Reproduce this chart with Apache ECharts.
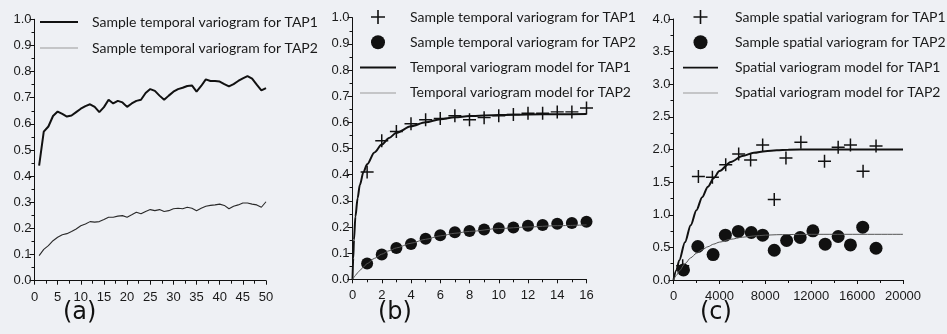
<!DOCTYPE html>
<html><head><meta charset="utf-8">
<script src="https://cdn.jsdelivr.net/npm/echarts@6/dist/echarts.min.js"></script>
<style>html,body{margin:0;padding:0;background:#eef0f4}#c{width:947px;height:334px}</style>
</head><body><div id="c"></div>
<script>
// ---- Panel (a): sample temporal variograms (lag in weeks) ----
const lagsA = [1,2,3,4,5,6,7,8,9,10,11,12,13,14,15,16,17,18,19,20,21,22,23,24,25,26,27,28,29,30,31,32,33,34,35,36,37,38,39,40,41,42,43,44,45,46,47,48,49,50];
const tap1A = [0.44,0.57,0.59,0.63,0.647,0.638,0.628,0.632,0.645,0.658,0.668,0.675,0.665,0.645,0.664,0.692,0.678,0.688,0.682,0.665,0.678,0.688,0.692,0.718,0.733,0.726,0.708,0.692,0.708,0.723,0.733,0.738,0.745,0.747,0.723,0.745,0.77,0.764,0.764,0.762,0.752,0.743,0.752,0.764,0.774,0.783,0.773,0.75,0.728,0.737];
const tap2A = [0.096,0.12,0.134,0.153,0.166,0.176,0.18,0.188,0.198,0.21,0.217,0.226,0.224,0.226,0.234,0.243,0.243,0.247,0.249,0.243,0.252,0.262,0.256,0.265,0.272,0.268,0.272,0.265,0.268,0.275,0.277,0.275,0.281,0.277,0.268,0.277,0.285,0.288,0.29,0.293,0.288,0.275,0.285,0.29,0.297,0.297,0.293,0.29,0.281,0.302];

// ---- Panel (b): temporal variograms and models ----
const lagsB = [1,2,3,4,5,6,7,8,9,10,11,12,13,14,15,16];
const tap1B = [0.41,0.53,0.565,0.595,0.61,0.615,0.625,0.61,0.618,0.625,0.63,0.635,0.635,0.64,0.64,0.655];
const tap2B = [0.06,0.095,0.12,0.135,0.155,0.168,0.18,0.185,0.19,0.195,0.198,0.205,0.208,0.212,0.215,0.22];
const modelLagsB = [0,0.05,0.1,0.2,0.35,0.5,0.75,1,1.5,2,2.5,3,4,5,6,7,8,10,12,14,16];
const model1B = [0,0.08,0.15,0.24,0.31,0.36,0.41,0.44,0.485,0.515,0.54,0.56,0.585,0.6,0.612,0.619,0.624,0.628,0.63,0.631,0.632];
const model2B = [0,0.004,0.008,0.015,0.025,0.034,0.047,0.06,0.08,0.096,0.109,0.12,0.138,0.153,0.166,0.176,0.183,0.194,0.2,0.205,0.208];

// ---- Panel (c): spatial variograms and models (distance) ----
const distC1 = [800,2170,3390,4550,5680,6720,7770,8780,9800,11100,13160,14350,15420,16520,17650];
const tap1C  = [0.22,1.585,1.575,1.765,1.93,1.84,2.07,1.235,1.87,2.11,1.82,2.035,2.07,1.665,2.055];
const distC2 = [870,2120,3450,4520,5650,6780,7770,8780,9860,11040,12150,13220,14350,15420,16490,17650];
const tap2C  = [0.155,0.513,0.39,0.687,0.744,0.728,0.687,0.456,0.605,0.651,0.754,0.549,0.667,0.538,0.81,0.487];
const modelDistC = [0,250,500,1000,1500,2000,2500,3000,3500,4000,5000,6000,7000,8000,9000,10000,12000,20000];
const model1C = [0,0.15,0.3,0.58,0.84,1.07,1.27,1.43,1.56,1.67,1.81,1.9,1.95,1.975,1.99,1.997,2.0,2.0];
const model2C = [0,0.07,0.14,0.25,0.34,0.41,0.465,0.51,0.55,0.58,0.625,0.655,0.675,0.687,0.694,0.697,0.7,0.7];

// ---- Text ----
const legendA = ['Sample temporal variogram for TAP1','Sample temporal variogram for TAP2'];
const legendB = ['Sample temporal variogram for TAP1','Sample temporal variogram for TAP2','Temporal variogram model for TAP1','Temporal variogram model for TAP2'];
const legendC = ['Sample spatial variogram for TAP1','Sample spatial variogram for TAP2','Spatial variogram model for TAP1','Spatial variogram model for TAP2'];
const panelLabels = ['(a)','(b)','(c)'];

const labelMap = {a1:legendA[0],a2:legendA[1],b1:legendB[0],b2:legendB[1],b3:legendB[2],b4:legendB[3],c1:legendC[0],c2:legendC[1],c3:legendC[2],c4:legendC[3]};
const zip = (xs, ys) => xs.map((x,i)=>[x, ys[i]]);

const INK = '#111';
const GREY = '#555';
const PLUS = 'path://M6.2,0H7.8V6.2H14V7.8H7.8V14H6.2V7.8H0V6.2H6.2Z';
const THICK = 'path://M0,0H36V2H0Z';
const THIN = 'path://M0,0H36V1H0Z';
const axisFont = {color:'#1a1a1a', fontSize:13, fontFamily:'Liberation Sans'};

function xAxis(idx, max, interval){
  return {type:'value', gridIndex:idx, min:0, max:max, interval:interval,
    axisLine:{show:true, onZero:false, lineStyle:{color:INK, width:1}},
    axisTick:{show:true, length:4, lineStyle:{color:INK}},
    minorTick:{show:true, splitNumber:2, length:3, lineStyle:{color:INK}},
    splitLine:{show:false},
    axisLabel:Object.assign({margin:10, formatter: v=>String(v)}, axisFont)};
}
function yAxis(idx, max, interval){
  return {type:'value', gridIndex:idx, min:0, max:max, interval:interval,
    axisLine:{show:true, onZero:false, lineStyle:{color:INK, width:1}},
    axisTick:{show:true, length:5, lineStyle:{color:INK}},
    minorTick:{show:true, splitNumber:2, length:3, lineStyle:{color:INK}},
    splitLine:{show:false},
    axisLabel:Object.assign({margin:3, formatter: v=>v.toFixed(1)}, axisFont)};
}
const legendText = pad => ({color:'#1a1a1a', fontSize:14, fontFamily:'Lato', padding:[0,0,0,pad]});
const titleStyle = {fontSize:24, fontWeight:'normal', color:'#111', fontFamily:'DejaVu Sans'};

const chart = echarts.init(document.getElementById('c'), null, {renderer:'canvas'});
chart.setOption({
  animation:false,
  backgroundColor:'#eef0f4',
  title: [
    {text:panelLabels[0], left:63, top:301, padding:0, textStyle:titleStyle},
    {text:panelLabels[1], left:378, top:301, padding:0, textStyle:titleStyle},
    {text:panelLabels[2], left:700, top:301, padding:0, textStyle:titleStyle}
  ],
  grid: [
    {left:34.5, top:19.3, width:231.5, height:261.4},
    {left:352.5, top:17.7, width:234, height:261.6},
    {left:673.5, top:19, width:229.5, height:261}
  ],
  xAxis: [xAxis(0,50,5), xAxis(1,16,2), xAxis(2,20000,4000)],
  yAxis: [yAxis(0,1,0.1), yAxis(1,1,0.1), yAxis(2,4,0.5)],
  legend: [
    {orient:'vertical', left:35, top:10, itemWidth:38, itemHeight:14, itemGap:12,
     formatter:n=>labelMap[n], textStyle:legendText(9),
     data:[{name:'a1', icon:THICK},{name:'a2', icon:THIN, itemStyle:{color:'#999'}}]},
    {orient:'vertical', left:355, top:5, itemWidth:36, itemHeight:14, itemGap:11.3,
     formatter:n=>labelMap[n], textStyle:legendText(9),
     data:[{name:'b1', icon:PLUS},{name:'b2', icon:'circle'},{name:'b3', icon:THICK},{name:'b4', icon:THIN, itemStyle:{color:'#999'}}]},
    {orient:'vertical', left:678, top:5, itemWidth:35, itemHeight:14, itemGap:11.3,
     formatter:n=>labelMap[n], textStyle:legendText(12),
     data:[{name:'c1', icon:PLUS},{name:'c2', icon:'circle'},{name:'c3', icon:THICK},{name:'c4', icon:THIN, itemStyle:{color:'#999'}}]}
  ],
  series: [
    {name:'a1', type:'line', xAxisIndex:0, yAxisIndex:0, data:zip(lagsA,tap1A), showSymbol:false, symbol:'none', color:INK, lineStyle:{width:2, color:INK}},
    {name:'a2', type:'line', xAxisIndex:0, yAxisIndex:0, data:zip(lagsA,tap2A), showSymbol:false, symbol:'none', color:'#2a2a2a', lineStyle:{width:1.1, color:'#2a2a2a'}},

    {name:'b3', type:'line', xAxisIndex:1, yAxisIndex:1, data:zip(modelLagsB,model1B), showSymbol:false, symbol:'none', smooth:0.3, smoothMonotone:'x', color:INK, lineStyle:{width:2, color:INK}},
    {name:'b4', type:'line', xAxisIndex:1, yAxisIndex:1, data:zip(modelLagsB,model2B), showSymbol:false, symbol:'none', smooth:0.3, smoothMonotone:'x', color:GREY, lineStyle:{width:1, color:GREY}},
    {name:'b1', type:'scatter', xAxisIndex:1, yAxisIndex:1, data:zip(lagsB,tap1B), symbol:PLUS, symbolSize:13, color:INK, itemStyle:{opacity:1}},
    {name:'b2', type:'scatter', xAxisIndex:1, yAxisIndex:1, data:zip(lagsB,tap2B), symbol:'circle', symbolSize:12, color:INK, itemStyle:{opacity:1}},

    {name:'c3', type:'line', xAxisIndex:2, yAxisIndex:2, data:zip(modelDistC,model1C), showSymbol:false, symbol:'none', smooth:0.3, smoothMonotone:'x', color:INK, lineStyle:{width:2, color:INK}},
    {name:'c4', type:'line', xAxisIndex:2, yAxisIndex:2, data:zip(modelDistC,model2C), showSymbol:false, symbol:'none', smooth:0.3, smoothMonotone:'x', color:GREY, lineStyle:{width:1, color:GREY}},
    {name:'c1', type:'scatter', xAxisIndex:2, yAxisIndex:2, data:zip(distC1,tap1C), symbol:PLUS, symbolSize:13, color:INK, itemStyle:{opacity:1}},
    {name:'c2', type:'scatter', xAxisIndex:2, yAxisIndex:2, data:zip(distC2,tap2C), symbol:'circle', symbolSize:13, color:INK, itemStyle:{opacity:1}}
  ]
});
</script></body></html>
